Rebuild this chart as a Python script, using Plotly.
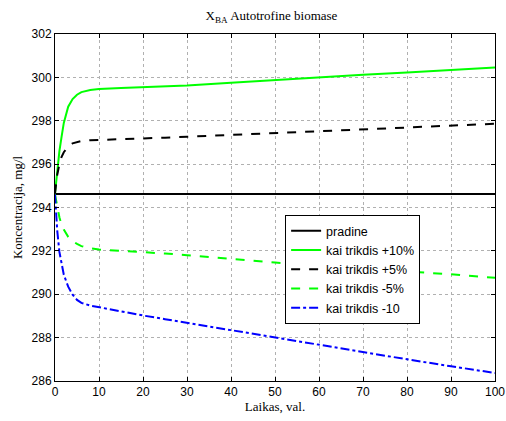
import plotly.graph_objects as go

t = [0, 0.5, 1, 1.5, 2, 3, 4, 5, 6, 8, 10, 15, 20, 25, 30, 40, 50, 60, 70, 80, 90, 100]

pradine_t = [0, 100]
pradine = [294.62, 294.62]

plus10 = [294.65, 295.8, 296.6, 297.27, 297.9, 298.65, 299.0, 299.2, 299.32, 299.42, 299.46,
          299.51, 299.55, 299.58, 299.62, 299.75, 299.88, 300.0, 300.12, 300.23, 300.35, 300.45]
plus5 = [294.65, 295.5, 296.0, 296.34, 296.55, 296.8, 296.96, 297.03, 297.07, 297.1, 297.11,
         297.14, 297.18, 297.22, 297.26, 297.35, 297.44, 297.52, 297.6, 297.69, 297.78, 297.86]
minus5 = [294.6, 294.0, 293.55, 293.2, 292.98, 292.65, 292.45, 292.32, 292.22, 292.12, 292.06,
          292.0, 291.95, 291.88, 291.8, 291.62, 291.46, 291.33, 291.18, 291.05, 290.92, 290.76]
minus10 = [294.6, 292.95, 291.95, 291.35, 290.9, 290.35, 289.98, 289.74, 289.6, 289.48, 289.4,
           289.2, 289.02, 288.85, 288.68, 288.35, 288.02, 287.68, 287.33, 287.0, 286.68, 286.37]

names = ["pradine", "kai trikdis +10%", "kai trikdis +5%", "kai trikdis -5%", "kai trikdis -10"]
x_ticks = list(range(0, 101, 10))
y_ticks = list(range(286, 303, 2))

SERIF = "Liberation Serif, Times New Roman, serif"
SANS = "Liberation Sans, Arial, sans-serif"

fig = go.Figure()
fig.add_trace(go.Scatter(x=pradine_t, y=pradine, mode="lines", name=names[0],
                         line=dict(color="black", width=2)))
fig.add_trace(go.Scatter(x=t, y=plus10, mode="lines", name=names[1],
                         line=dict(color="#00ff00", width=2)))
fig.add_trace(go.Scatter(x=t, y=plus5, mode="lines", name=names[2],
                         line=dict(color="black", width=2, dash="dash")))
fig.add_trace(go.Scatter(x=t, y=minus5, mode="lines", name=names[3],
                         line=dict(color="#00ff00", width=2, dash="dash")))
fig.add_trace(go.Scatter(x=t, y=minus10, mode="lines", name=names[4],
                         line=dict(color="#0000ff", width=2, dash="dashdot")))

axis_common = dict(
    showline=True, linecolor="black", linewidth=1, mirror="ticks",
    ticks="inside", ticklen=4, tickcolor="black",
    showgrid=True, gridcolor="#b0b0b0", griddash="dot", gridwidth=1,
    zeroline=False, automargin=False,
    tickfont=dict(family=SANS, size=12, color="black"),
)

fig.update_layout(
    width=506, height=421,
    margin=dict(l=55, r=11, t=34, b=40),
    paper_bgcolor="white", plot_bgcolor="white",
    title=dict(text="X<sub>BA</sub> Autotrofine biomase", x=271.5 / 506, xanchor="center",
               y=1 - 15.5 / 421, yanchor="middle",
               font=dict(family=SERIF, size=13, color="black")),
    xaxis=dict(range=[0, 100], tickvals=x_ticks,
               title=dict(text="Laikas, val.", standoff=2,
                          font=dict(family=SERIF, size=13, color="black")),
               **axis_common),
    yaxis=dict(range=[286, 302], tickvals=y_ticks,
               title=dict(text="Koncentracija, mg/l", standoff=6,
                          font=dict(family=SERIF, size=13, color="black")),
               **axis_common),
    legend=dict(x=0.523, y=0.478, xanchor="left", yanchor="top",
                bgcolor="white", bordercolor="black", borderwidth=1,
                font=dict(family=SANS, size=12.5, color="black"),
                tracegroupgap=0),
    showlegend=True,
)

fig.write_html("out.html",
               config={"displayModeBar": False},
               post_script="document.body.style.margin='0';document.body.style.overflow='hidden';")
